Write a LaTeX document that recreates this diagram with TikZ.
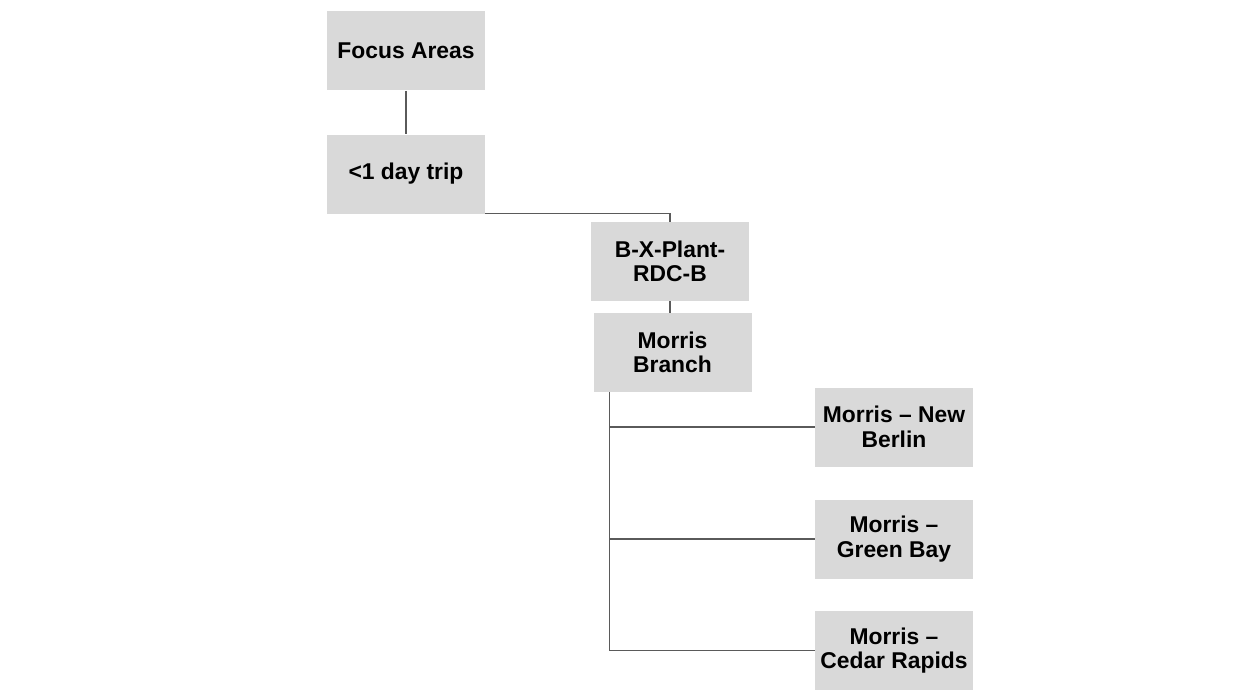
\documentclass[tikz,border=0pt]{standalone}
\usepackage{fontspec}
\setmainfont{Liberation Sans}
\usepackage{xcolor}
\usetikzlibrary{positioning}

\definecolor{boxgray}{RGB}{217,217,217}
\definecolor{linegray}{RGB}{90,90,90}

\tikzset{
    area/.style={fill=boxgray, minimum width=3.16cm, minimum height=1.58cm,
        inner sep=2pt, align=center, font=\fontsize{13}{14}\selectfont\bfseries},
    link/.style={draw=linegray, line width=0.6pt}
}

\begin{document}
\begin{tikzpicture}[on grid]
            \useasboundingbox (0,0) rectangle (25,-13.8);

            \node[area] (focus) at (8.12,-1.02) {Focus Areas};
            \node[area, below=2.46cm of focus] (trip) {<1 day trip};
            \node[area, below right=1.75cm and 5.28cm of trip] (bx) {B-X-Plant-\\RDC-B};
            \node[area, below=1.82cm of bx, xshift=0.05cm] (branch) {Morris\\Branch};
            \node[area, below right=1.49cm and 4.43cm of branch] (berlin) {Morris -- New\\Berlin};
            \node[area, below=2.24cm of berlin] (green) {Morris --\\Green Bay};
            \node[area, below=2.23cm of green] (cedar) {Morris --\\Cedar Rapids};

            \coordinate (trunk) at ([xshift=0.33cm]branch.south west);

            \path[link]
            (focus) edge (trip)
            (bx.south) edge (bx.south |- branch.north);
            \draw[link] (trip.south east) -| (bx.north);
            \draw[link] (trunk) |- (berlin.west);
            \draw[link] (trunk) |- (green.west);
            \draw[link] (trunk) |- (cedar.west);
        \end{tikzpicture}
\end{document}
